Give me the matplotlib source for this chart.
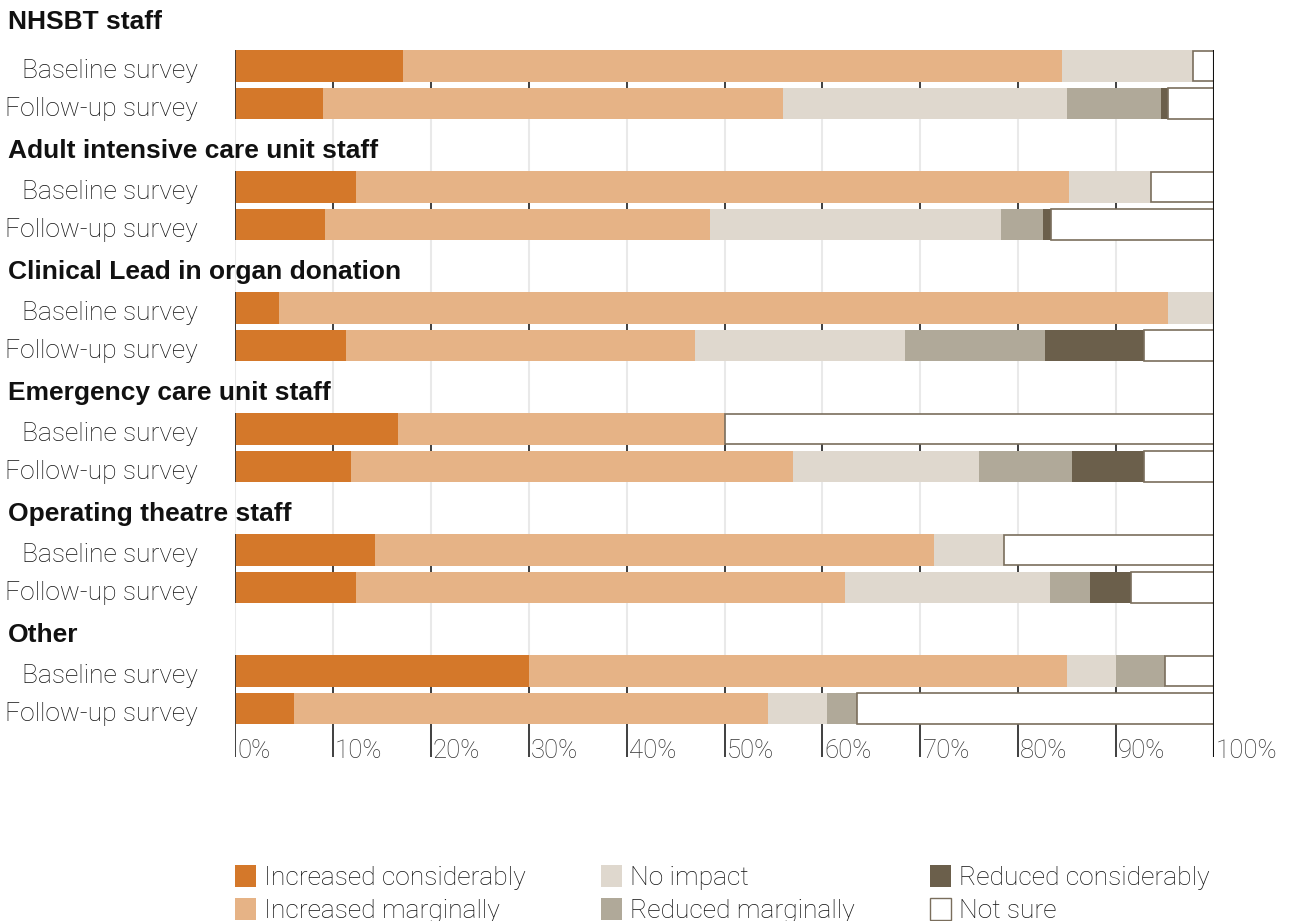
import matplotlib
matplotlib.use("Agg")
import matplotlib.pyplot as plt
import matplotlib.transforms as mtransforms
from matplotlib.patches import Rectangle
import numpy as np

groups = ["NHSBT staff", "Adult intensive care unit staff", "Clinical Lead in organ donation",
          "Emergency care unit staff", "Operating theatre staff", "Other"]
surveys = ["Baseline survey", "Follow-up survey"]
categories = ["Increased considerably", "Increased marginally", "No impact",
              "Reduced marginally", "Reduced considerably", "Not sure"]

# % of respondents per answer, one row per (group, survey)
increased_considerably = [17.2, 9.0, 12.4, 9.2, 4.5, 11.3, 16.7, 11.8, 14.3, 12.4, 30.0, 6.0]
increased_marginally = [67.3, 47.0, 72.8, 39.3, 90.8, 35.7, 33.3, 45.2, 57.1, 49.9, 55.0, 48.4]
no_impact = [13.4, 29.0, 8.4, 29.7, 4.7, 21.4, 0.0, 19.0, 7.1, 20.9, 5.0, 6.1]
reduced_marginally = [0.0, 9.6, 0.0, 4.3, 0.0, 14.3, 0.0, 9.5, 0.0, 4.1, 5.0, 3.0]
reduced_considerably = [0.0, 0.7, 0.0, 0.8, 0.0, 10.1, 0.0, 7.3, 0.0, 4.2, 0.0, 0.0]
not_sure = [2.1, 4.7, 6.4, 16.7, 0.0, 7.2, 50.0, 7.2, 21.5, 8.5, 5.0, 36.5]

series = [increased_considerably, increased_marginally, no_impact,
          reduced_marginally, reduced_considerably, not_sure]
colors = ["#d4782a", "#e6b386", "#dfd8ce", "#b0a999", "#6b5f4b", "#ffffff"]

label_font = dict(family="Roboto", weight="light", size=19, color="#111111")
title_font = dict(family="Liberation Sans", weight="bold", size=19, color="#111111")

fig = plt.figure(figsize=(12.94, 9.21), dpi=100)
ax = fig.add_axes([235 / 1294, 1 - 757 / 921, 979 / 1294, 707 / 921])

bar_h = 0.264
pair_gap = 0.31
ypos = []
for g in range(len(groups)):
    ypos += [g, g + pair_gap]
ypos = np.array(ypos)

ax.set_xlim(0, 100)
ax.set_ylim(len(groups) - 0.289, -bar_h / 2)

ticks = np.arange(0, 101, 10)
# light grid everywhere, dark ticks between paired bars and below the last bar
ax.vlines(ticks[:-1], -bar_h / 2, len(groups), color="#e9e9e9", lw=1.5, zorder=0)
for g in range(len(groups)):
    ax.vlines(ticks, g, g + pair_gap, color="#333333", lw=1.3, zorder=1)
ax.vlines(ticks, ypos[-1], len(groups), color="#333333", lw=1.3, zorder=1)
ax.vlines(100, -bar_h / 2, len(groups), color="#111111", lw=1.5, zorder=5)

left = np.zeros(len(ypos))
for vals, col, name in zip(series, colors, categories):
    vals = np.array(vals)
    if name == "Not sure":
        ax.barh(ypos, vals, left=left, height=bar_h - 0.01, color=col,
                edgecolor="#7a6e5c", lw=1.2, zorder=3)
    else:
        ax.barh(ypos, vals, left=left, height=bar_h, color=col, lw=0, zorder=3)
    left += vals
for g in range(len(groups)):
    ax.vlines(0, g - bar_h / 2, g + pair_gap + bar_h / 2, color="#333333", lw=1.2, zorder=4)

for s in ax.spines.values():
    s.set_visible(False)
ax.set_xticks([])
ax.set_yticks(ypos)
ax.set_yticklabels(surveys * len(groups), **label_font)
ax.tick_params(axis="y", length=0, pad=27)
shift_down = mtransforms.ScaledTranslation(0, -3 / 100, fig.dpi_scale_trans)
for lab in ax.get_yticklabels():
    lab.set_transform(lab.get_transform() + shift_down)

tick_y = len(groups) - 0.34
for t in ticks:
    ax.text(t + 0.2, tick_y, f"{t}%", ha="left", va="center",
            **{**label_font, "size": 18.5, "color": "#333333"})

trans = mtransforms.blended_transform_factory(fig.transFigure, ax.transData)
for g, name in enumerate(groups):
    offset = 0.365 if g == 0 else 0.3
    ax.text(8 / 1294, g - offset, name, transform=trans, ha="left", va="center",
            clip_on=False, **title_font)

# legend laid out in three columns under the chart
col_x = [235, 601, 930]
row_y = [876, 909]
for i, (name, col) in enumerate(zip(categories, colors)):
    x = col_x[i // 2]
    y = row_y[i % 2]
    ec = "#7a6e5c" if name == "Not sure" else "none"
    fig.add_artist(Rectangle((x / 1294, 1 - (y + 11) / 921), 21 / 1294, 22 / 921,
                             transform=fig.transFigure, facecolor=col, edgecolor=ec, lw=1))
    fig.text((x + 29) / 1294, 1 - (y + 2) / 921, name, ha="left", va="center", **label_font)

fig.savefig("out.png", dpi=100, facecolor="white")
